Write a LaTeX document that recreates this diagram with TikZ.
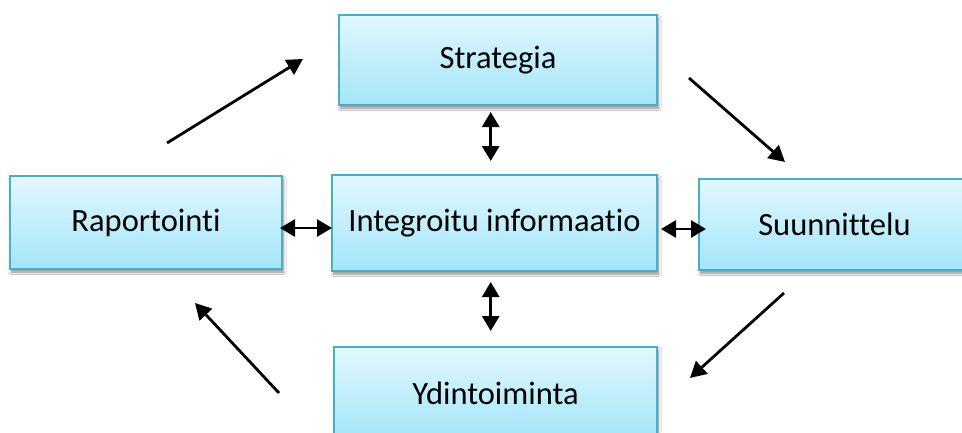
\documentclass[tikz,border=0pt]{standalone}
\usepackage{fontspec}
\setmainfont{Carlito}[Ligatures={NoCommon,NoRequired,NoContextual}]
\usetikzlibrary{arrows.meta,shadows.blur,calc}
\definecolor{boxTop}{HTML}{E2F8FE}
\definecolor{boxBot}{HTML}{A3E5F8}
\definecolor{boxLine}{HTML}{4BACC6}
\tikzset{
  box/.style={draw=boxLine, line width=2pt, top color=boxTop, bottom color=boxBot,
    inner sep=0pt, font=\fontsize{32.5}{38}\selectfont, text=black,
    blur shadow={shadow xshift=1.5pt, shadow yshift=-3pt, shadow blur steps=6,
      shadow blur radius=2.5pt, shadow opacity=45}},
  flow/.style={line width=2.8pt, -{Triangle[length=16pt,width=17pt]}},
  dbl/.style={line width=2.8pt, {Triangle[length=15pt,width=17pt]}-{Triangle[length=15pt,width=17pt]}}
}
\begin{document}
\begin{tikzpicture}[x=1pt,y=-1pt]
  \useasboundingbox (0,0) rectangle (962,432);
  \clip (0,0) rectangle (962,432);
  \fill[white] (0,0) rectangle (962,432);

  % boxes
  \node[box, minimum width=318pt, minimum height=90pt] (strat) at (498,60) {Strategia};
  \node[box, minimum width=272pt, minimum height=93pt] (rap) at (146,222.5) {Raportointi};
  \node[box, minimum width=325pt, minimum height=96pt] (integ) at (494.5,223) {Integroitu informaatio};
  \node[box, minimum width=271pt, minimum height=91pt] (suun) at (834.5,224.5) {Suunnittelu};
  \node[box, minimum width=323pt, minimum height=92pt] (ydin) at (495.5,393) {Ydintoiminta};

  % end points of the cycle arrows
  \coordinate (c1a) at (167,143);  \coordinate (c1b) at (303,59);
  \coordinate (c2a) at (689,78);   \coordinate (c2b) at (785,162);
  \coordinate (c3a) at (784,293);  \coordinate (c3b) at (690,378);
  \coordinate (c4a) at (279,393);  \coordinate (c4b) at (195,303);

  % cycle arrows
  \draw[flow] (c1a) -- (c1b);
  \draw[flow] (c2a) -- (c2b);
  \draw[flow] (c3a) -- (c3b);
  \draw[flow] (c4a) -- (c4b);

  % exchanges with the central box
  \draw[dbl, shorten <=6pt, shorten >=13pt] ($(strat.south)+(-7.3,0)$) -- ($(integ.north)+(-3.8,0)$);
  \draw[dbl, shorten <=10pt, shorten >=15pt] ($(integ.south)+(-3.8,0)$) -- ($(ydin.north)+(-4.8,0)$);
  \draw[dbl, shorten <=-3pt, shorten >=-1pt] ($(rap.east)+(0,5.5)$) -- ($(integ.west)+(0,5)$);
  \draw[dbl, shorten <=3pt, shorten >=-8pt] ($(integ.east)+(0,6)$) -- ($(suun.west)+(0,4.5)$);
\end{tikzpicture}
\end{document}
